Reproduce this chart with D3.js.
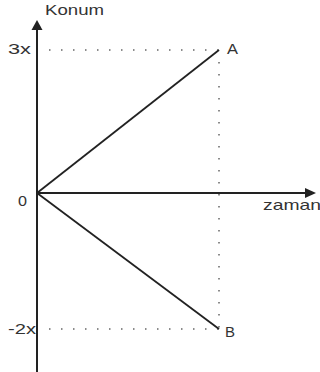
<!DOCTYPE html>
<html>
<head>
<meta charset="utf-8">
<script src="https://cdn.jsdelivr.net/npm/d3@7"></script>
<style>
body { margin: 0; background: #fff; }
svg { display: block; }
text { font-family: "Liberation Sans", Arial, sans-serif; fill: #333; }
</style>
</head>
<body>
<svg width="320" height="372"></svg>
<script>
// time points and positions of the two bodies
var times = [0, 1]
var posA = [0, 3]
var posB = [0, -2]
var yTicks = [3, 0, -2]
var yTickLabels = ["3x", "0", "-2x"]
var names = ["A", "B"]

var svg = d3.select("svg")
var ink = "#222"

var x = d3.scaleLinear().domain([0, 1]).range([37, 219])
// the drawing is not to scale: 3x and -2x sit at uneven distances from 0
var y = d3.scaleLinear().domain([-2, 0, 3]).range([329, 193, 50])

// guide dots
var dots = svg.append("g")
	.attr("stroke", "#666")
	.attr("stroke-width", 1.5)
	.attr("stroke-dasharray", "1.5,10.5")
dots.append("line")
	.attr("x1", x(0) + 12).attr("x2", x(times[1]))
	.attr("y1", y(posA[1])).attr("y2", y(posA[1]))
dots.append("line")
	.attr("x1", x(0) + 12).attr("x2", x(times[1]))
	.attr("y1", y(posB[1])).attr("y2", y(posB[1]))
dots.append("line")
	.attr("x1", x(times[1])).attr("x2", x(times[1]))
	.attr("y1", y(posA[1]) + 12).attr("y2", y(posB[1]))

// axes with arrows
svg.append("line")
	.attr("x1", x(0)).attr("x2", x(0))
	.attr("y1", 372).attr("y2", 28)
	.attr("stroke", ink).attr("stroke-width", 2)
svg.append("path")
	.attr("d", "M" + x(0) + ",20 L" + (x(0) - 5.5) + ",30 L" + (x(0) + 5.5) + ",30 Z")
	.attr("fill", ink)
svg.append("line")
	.attr("x1", x(0)).attr("x2", 306)
	.attr("y1", y(0)).attr("y2", y(0))
	.attr("stroke", ink).attr("stroke-width", 2)
svg.append("path")
	.attr("d", "M316," + y(0) + " L305," + (y(0) - 5) + " L305," + (y(0) + 5) + " Z")
	.attr("fill", ink)

// motion lines
var line = d3.line()
	.x(function(d, i) { return x(times[i]) })
	.y(function(d) { return y(d) })
;[posA, posB].forEach(function(p) {
	svg.append("path")
		.attr("d", line(p))
		.attr("fill", "none")
		.attr("stroke", ink)
		.attr("stroke-width", 1.8)
})

// labels
var tickPos = [[8, 23, 4], [18, 9, 13], [8, 28, 5]]
yTicks.forEach(function(v, i) {
	svg.append("text")
		.attr("x", tickPos[i][0])
		.attr("y", y(v) + tickPos[i][2])
		.attr("font-size", 14)
		.attr("textLength", tickPos[i][1])
		.attr("lengthAdjust", "spacingAndGlyphs")
		.text(yTickLabels[i])
})
svg.append("text")
	.attr("x", x(times[1]) + 8).attr("y", y(posA[1]) + 4)
	.attr("font-size", 14).attr("textLength", 11).attr("lengthAdjust", "spacingAndGlyphs")
	.text(names[0])
svg.append("text")
	.attr("x", x(times[1]) + 6).attr("y", y(posB[1]) + 8)
	.attr("font-size", 14).attr("textLength", 10).attr("lengthAdjust", "spacingAndGlyphs")
	.text(names[1])
svg.append("text")
	.attr("x", 45).attr("y", 15)
	.attr("font-size", 15).attr("textLength", 59).attr("lengthAdjust", "spacingAndGlyphs")
	.text("Konum")
svg.append("text")
	.attr("x", 263).attr("y", 210)
	.attr("font-size", 15).attr("textLength", 58).attr("lengthAdjust", "spacingAndGlyphs")
	.text("zaman")
</script>
</body>
</html>
